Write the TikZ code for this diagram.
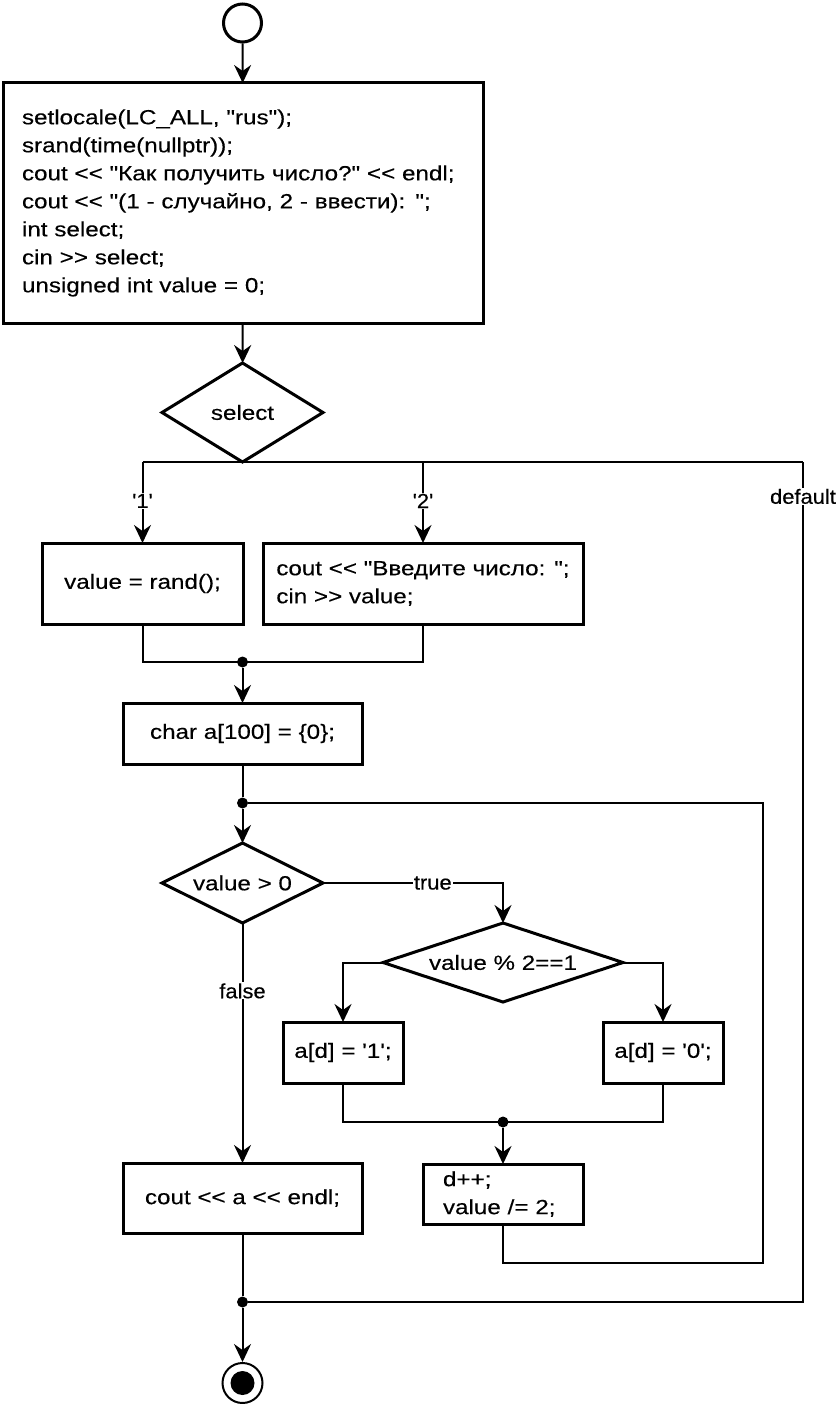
\documentclass[tikz,border=0pt]{standalone}
\usepackage{fontspec}
\newfontfamily\lsans{Liberation Sans}[FakeStretch=1.18,FakeBold=0.3]
\newfontfamily\lsanslbl{Liberation Sans}[FakeStretch=1.07,FakeBold=0.3]
\usetikzlibrary{shapes.geometric,arrows.meta}
\begin{document}
\begin{tikzpicture}[x=1pt,y=-1pt,
  font=\lsans\fontsize{20.5}{28}\selectfont,
  box/.style={draw, line width=3pt, inner sep=0pt, outer sep=0pt},
  dia/.style={draw, diamond, shape aspect=3, line width=3pt, inner sep=0pt, outer sep=0pt},
  conn/.style={line width=2pt},
  arr/.style={conn, -{Stealth[length=18pt,width=17pt,inset=6pt]}},
  lbl/.style={fill=white, inner sep=1pt, font=\lsanslbl\fontsize{20.5}{24}\selectfont},
  dot/.style={circle, fill, inner sep=0pt, minimum size=11pt}
]
\useasboundingbox (0,0) rectangle (836,1404);
\fill[white] (0,0) rectangle (836,1404);

% nodes
\node[circle, draw, line width=3pt, minimum size=38pt, inner sep=0pt] (start) at (242.5,23) {};
\node[box, minimum width=480pt, minimum height=240pt, text width=442pt, align=left] (init) at (243,203)
 {setlocale(LC\_ALL, "rus");\\
  srand(time(nullptr));\\
  cout << "Как получить число?" << endl;\\
  cout << "(1 - случайно, 2 - ввести): ";\\
  int select;\\
  cin >> select;\\
  unsigned int value = 0;};
\node[dia, minimum width=161pt, minimum height=99pt] (sel) at (242.5,412.5) {select};
\node[box, minimum width=201pt, minimum height=81pt] (case1) at (142.5,583.5) {value = rand();};
\node[box, minimum width=320pt, minimum height=81pt, align=left] (case2) at (423,583.5)
 {cout << "Введите число: ";\\ cin >> value;};
\node[box, minimum width=239pt, minimum height=61pt] (init2) at (242.5,733.5) {char a[100] = \{0\};};
\node[dia, minimum width=161pt, minimum height=80pt] (cond) at (242.5,883) {value > 0};
\node[dia, minimum width=240pt, minimum height=79pt] (par) at (503,962.5) {value \% 2==1};
\node[box, minimum width=120pt, minimum height=61pt] (one) at (343,1052.5) {a[d] = '1';};
\node[box, minimum width=120pt, minimum height=61pt] (zero) at (663,1052.5) {a[d] = '0';};
\node[box, minimum width=160pt, minimum height=60pt, text width=120pt, align=left] (inc) at (503,1194)
 {d++;\\ value /= 2;};
\node[box, minimum width=239pt, minimum height=70pt] (out) at (242.5,1198) {cout << a << endl;};
\node[circle, draw, line width=2pt, minimum size=40pt, inner sep=0pt,
  path picture={\fill (path picture bounding box.center) circle (12pt);}] (end) at (242.5,1383) {};

% junctions
\node[dot] (j1) at (242.5,662) {};
\node[dot] (j2) at (242.5,803) {};
\node[dot] (j3) at (503,1122) {};
\node[dot] (j4) at (242.5,1302) {};
\path (sel.south) ++(560.5,0) coordinate (dft);
\coordinate (lr) at (763,1263);

% connectors
\draw[arr] (start) -- (init);
\draw[arr] (init) -- (sel);
\draw[conn] (case1.north |- sel.south) -- (dft);
\draw[arr] (case1.north |- sel.south) -- node[lbl, pos=0.48]{'1'} (case1.north);
\draw[arr] (case2.north |- sel.south) -- node[lbl, pos=0.48]{'2'} (case2.north);
\draw[conn] (dft) -- node[lbl, pos=0.041]{default} (dft |- j4) -- (j4);
\draw[conn] (case1.south) -- (case1.south |- j1) -- (case2.south |- j1) -- (case2.south);
\draw[arr] (j1) -- (init2);
\draw[conn] (init2) -- (j2);
\draw[arr] (j2) -- (cond);
\draw[arr] (cond.east) -- node[lbl, pos=0.61]{true} (par.north |- cond.east) -- (par.north);
\draw[arr] (par.west) -- (one.north |- par.west) -- (one.north);
\draw[arr] (par.east) -- (zero.north |- par.east) -- (zero.north);
\draw[conn] (one.south) -- (one.south |- j3) -- (zero.south |- j3) -- (zero.south);
\draw[arr] (j3) -- (inc);
\draw[conn] (inc.south) -- (inc.south |- lr) -- (lr) -- (lr |- j2) -- (j2);
\draw[arr] (cond.south) -- node[lbl, pos=0.283]{false} (out.north);
\draw[conn] (out) -- (j4);
\draw[arr] (j4) -- (end);
\end{tikzpicture}
\end{document}
